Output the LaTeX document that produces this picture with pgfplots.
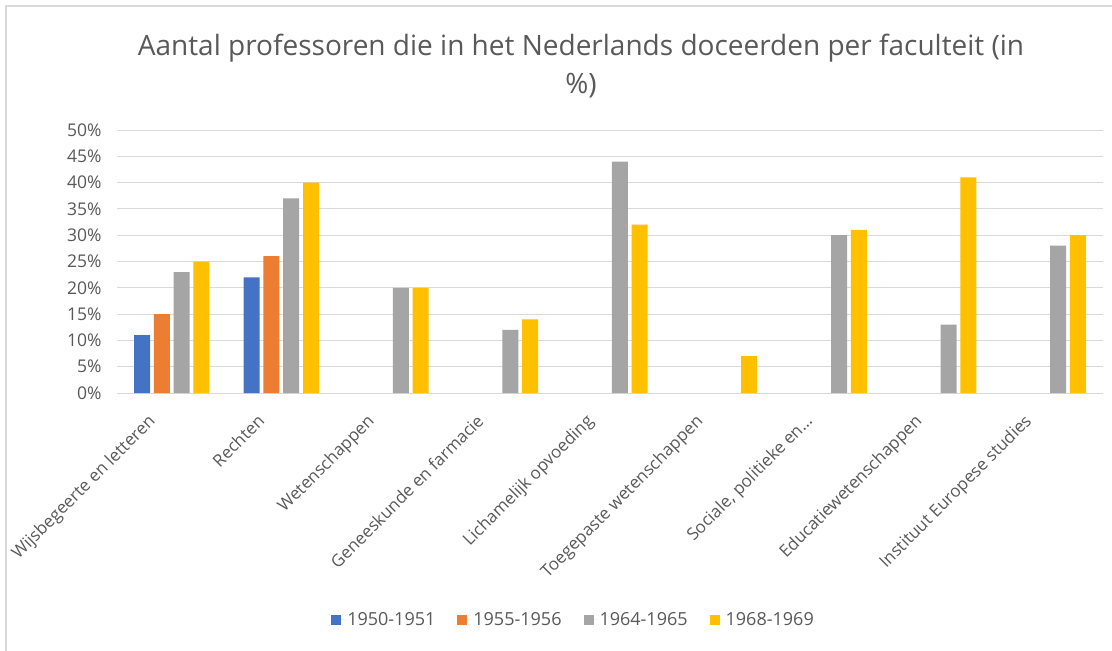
\documentclass[border=0pt]{standalone}
\usepackage{pgfplots}
\pgfplotsset{compat=1.18}
\usepackage{fontspec}
\setmainfont{Open Sans}
\definecolor{c1}{HTML}{4472C4}
\definecolor{c2}{HTML}{ED7D31}
\definecolor{c3}{HTML}{A5A5A5}
\definecolor{c4}{HTML}{FFC000}
\definecolor{txt}{HTML}{595959}
\definecolor{gridc}{HTML}{D9D9D9}
\begin{document}
\begin{tikzpicture}[x=1pt,y=1pt]
\useasboundingbox (0,0) rectangle (1112,651);
\fill[white] (0,0) rectangle (1112,651);
\draw[gridc, line width=1.2pt] (6,-20) -- (6,645) -- (1130,645);
\node[text=txt, align=center, font=\fontsize{28}{38}\selectfont] at (581,585) {Aantal professoren die in het Nederlands doceerden per faculteit (in\\ \%)};
\begin{axis}[
  at={(117pt,258pt)}, anchor=south west,
  scale only axis, width=986pt, height=263pt,
  xmin=-0.5, xmax=8.5, ymin=0, ymax=50,
  axis line style={draw=none},
  major tick length=0pt,
  ymajorgrids, major grid style={gridc, line width=1pt},
  ytick={0,5,...,50},
  yticklabels={0\%,5\%,10\%,15\%,20\%,25\%,30\%,35\%,40\%,45\%,50\%},
  yticklabel style={text=txt, font=\fontsize{17.5}{20}\selectfont, xshift=-12pt},
  xtick={0,...,8},
  xticklabels={Wijsbegeerte en letteren, Rechten, Wetenschappen, Geneeskunde en farmacie, Lichamelijk opvoeding, Toegepaste wetenschappen, {Sociale, politieke en…}, Educatiewetenschappen, Instituut Europese studies},
  xticklabel style={text=txt, font=\fontsize{17}{20}\selectfont, xshift=-25pt, yshift=-20pt, rotate=45, anchor=north east, inner sep=0pt},
  bar width=0.146,
  legend columns=4,
  legend style={at={(0.463,-0.863)}, anchor=center, draw=none, fill=none, font=\fontsize{18}{20}\selectfont, text=txt, /tikz/every even column/.append style={column sep=20pt}},
  legend image code/.code={\fill[#1] (0pt,-5pt) rectangle (10pt,5pt); \path (0pt,0pt) -- (14pt,0pt);},
]
\addplot[ybar, bar shift=-0.271, fill=c1, draw=none] coordinates {(0,11) (1,22)};
\addplot[ybar, bar shift=-0.0904, fill=c2, draw=none] coordinates {(0,15) (1,26)};
\addplot[ybar, bar shift=0.0904, fill=c3, draw=none] coordinates {(0,23) (1,37) (2,20) (3,12) (4,44) (6,30) (7,13) (8,28)};
\addplot[ybar, bar shift=0.271, fill=c4, draw=none] coordinates {(0,25) (1,40) (2,20) (3,14) (4,32) (5,7) (6,31) (7,41) (8,30)};
\legend{1950-1951, 1955-1956, 1964-1965, 1968-1969}
\end{axis}
\end{tikzpicture}
\end{document}
